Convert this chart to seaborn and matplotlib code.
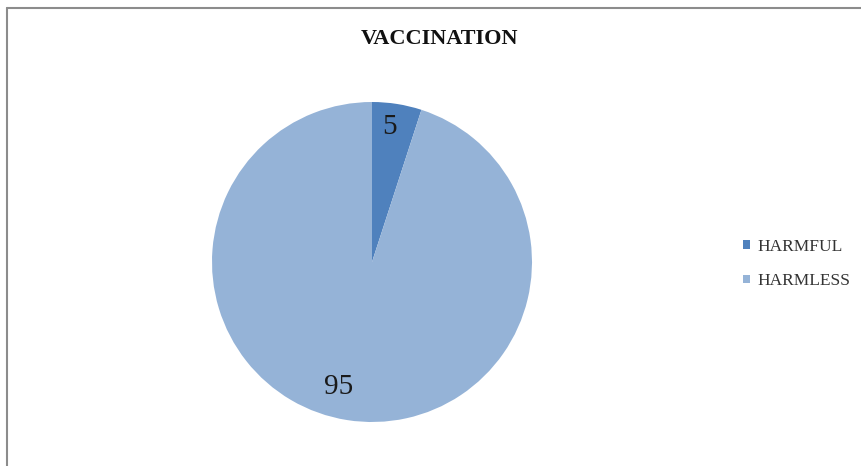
import numpy as np
import matplotlib
matplotlib.use("Agg")
import matplotlib.pyplot as plt
import seaborn as sns
from matplotlib.lines import Line2D
from matplotlib.patches import Patch

# Survey answers: is vaccination harmful?
categories = ["HARMFUL", "HARMLESS"]
values = [5, 95]
title = "VACCINATION"

sns.set_theme(style="white")
plt.rcParams["font.family"] = ["Liberation Serif", "DejaVu Serif"]

colors = ["#4F81BD", "#95B3D7"]

W, H = 862, 466
fig = plt.figure(figsize=(W / 100, H / 100), dpi=100)

# pie axes: centre (372, 262) px, radius 160 px
cx, cy, r = 372, 262, 160
ax = fig.add_axes([(cx - r) / W, (H - cy - r) / H, 2 * r / W, 2 * r / H])
wedges, texts, autotexts = ax.pie(
    values,
    colors=colors,
    startangle=90,
    counterclock=False,
    autopct=lambda p: f"{p:.0f}",
    pctdistance=0.85,
    radius=1.0,
    wedgeprops=dict(linewidth=0),
    textprops=dict(fontsize=21, color="#1a1a1a"),
)
# place each value label along its wedge, with a small angular shift (clockwise positive)
label_shift_deg = [-1.8, 6.0]
label_dist = [0.85, 0.81]
for w, t, sh, d in zip(wedges, autotexts, label_shift_deg, label_dist):
    a = np.deg2rad((w.theta1 + w.theta2) / 2 - sh)
    t.set_position((d * np.cos(a), d * np.sin(a)))
ax.set_xlim(-1, 1)
ax.set_ylim(-1, 1)
ax.set_aspect("equal")
ax.axis("off")

fig.text(440 / W, 1 - 39 / H, title, ha="center", va="center",
         fontsize=16, fontweight="bold", color="#111111")

handles = [Patch(facecolor=c, edgecolor="none") for c in colors]
fig.legend(handles, categories, loc="center left",
           bbox_to_anchor=(738 / W, 1 - 264 / H), frameon=False,
           fontsize=12.5, handlelength=0.4, handleheight=0.4,
           handletextpad=0.4, labelspacing=1.05,
           labelcolor="#333333", borderaxespad=0, borderpad=0.3)

# chart-area border (top and left edges)
fig.add_artist(Line2D([7 / W, 1], [1 - 8 / H, 1 - 8 / H], transform=fig.transFigure,
                      color="#8c8c8c", linewidth=1.5))
fig.add_artist(Line2D([7 / W, 7 / W], [0, 1 - 8 / H], transform=fig.transFigure,
                      color="#8c8c8c", linewidth=1.5))

fig.savefig("out.png", dpi=100)
